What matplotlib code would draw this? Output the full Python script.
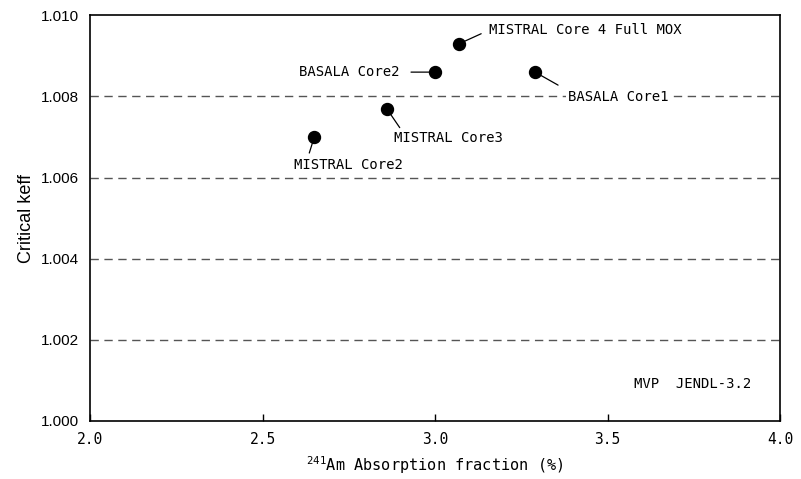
import matplotlib
matplotlib.use("Agg")
import matplotlib.pyplot as plt

# data
cores = ["MISTRAL Core2", "MISTRAL Core3", "BASALA Core2",
         "MISTRAL Core 4 Full MOX", "BASALA Core1"]
am_fraction = [2.65, 2.86, 3.00, 3.07, 3.29]
keff = [1.0070, 1.0077, 1.0086, 1.0093, 1.0086]
x_ticks = [2.0, 2.5, 3.0, 3.5, 4.0]
y_ticks = [1.000, 1.002, 1.004, 1.006, 1.008, 1.010]

mono = ["DejaVu Sans Mono", "DejaVu Sans"]
sans = ["Liberation Sans", "DejaVu Sans"]
plt.rcParams["font.family"] = mono
plt.rcParams["mathtext.default"] = "regular"
plt.rcParams["lines.scale_dashes"] = False

fig = plt.figure(figsize=(8.01, 4.79), dpi=100)
ax = fig.add_axes([0.1124, 0.1211, 0.8614, 0.8469])

for y in y_ticks[1:-1]:
    ax.axhline(y, color="#555555", lw=1.0, dashes=(6, 4), zorder=1)

# label layout in pixels relative to each point: text offset, leader end, alignment, white box
layout = {
    "MISTRAL Core2": ((34, -28), (-5, -16), "center", False),
    "MISTRAL Core3": ((7, -29), (13, -19), "left", False),
    "BASALA Core2": ((-36, 0), (-24, 0), "right", False),
    "MISTRAL Core 4 Full MOX": ((30, 14), (22, 10), "left", False),
    "BASALA Core1": ((33, -25), (23, -13), "left", True),
}
for name, x, y in zip(cores, am_fraction, keff):
    off, p1, ha, box = layout[name]
    ax.annotate("", xy=(x, y), xytext=p1, textcoords="offset pixels",
                arrowprops=dict(arrowstyle="-", color="black", lw=0.9,
                                shrinkA=0, shrinkB=0),
                annotation_clip=False)
    t = ax.annotate(name, xy=(x, y), xytext=off, textcoords="offset pixels",
                    ha=ha, va="center", fontsize=10, zorder=4)
    if box:
        t.set_bbox(dict(facecolor="white", edgecolor="none", pad=1.5))

ax.plot(am_fraction, keff, "o", color="black", ms=8.6, zorder=5)

ax.text(0.958, 0.092, "MVP  JENDL-3.2", transform=ax.transAxes,
        ha="right", va="center", fontsize=10)

ax.set_xlim(2.0, 4.0)
ax.set_ylim(1.000, 1.010)
ax.set_xticks(x_ticks)
ax.set_yticks(y_ticks)
ax.set_xticklabels([f"{v:.1f}" for v in x_ticks], family=mono, fontsize=10.5)
ax.set_yticklabels([f"{v:.3f}" for v in y_ticks], family=sans, fontsize=11)
ax.tick_params(axis="x", direction="in", length=5, width=1, pad=8)
ax.tick_params(axis="y", direction="in", length=0, pad=8)
for s in ax.spines.values():
    s.set_linewidth(1.2)

ax.set_xlabel("$^{241}$Am Absorption fraction (%)", fontsize=11, labelpad=5)
ax.set_ylabel("Critical keff", fontsize=13, family=sans, labelpad=4)

fig.savefig("out.png", dpi=100)
